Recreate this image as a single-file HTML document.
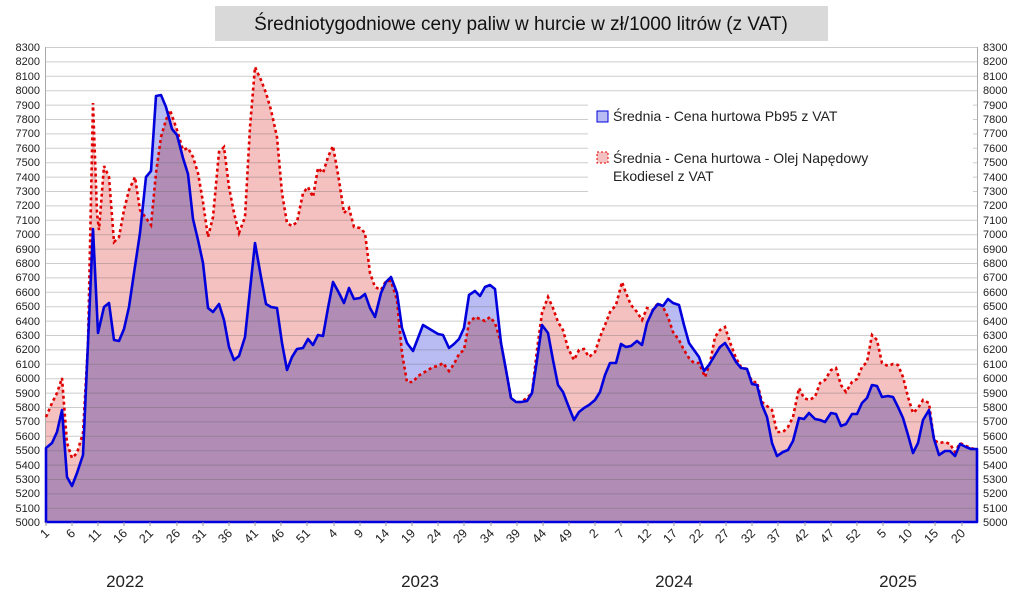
<!DOCTYPE html>
<html><head><meta charset="utf-8"><style>
body{margin:0;background:#fff;width:1024px;height:596px;overflow:hidden;font-family:"Liberation Sans",sans-serif}
#bluep{mix-blend-mode:multiply}
</style></head><body>
<svg width="1024" height="596" xmlns="http://www.w3.org/2000/svg" font-family="Liberation Sans, sans-serif">
<rect x="0" y="0" width="1024" height="596" fill="#fff"/>
<rect x="215" y="6" width="613" height="35" fill="#d9d9d9"/>
<text x="521" y="30" font-size="19" text-anchor="middle" fill="#111">Średniotygodniowe ceny paliw w hurcie w zł/1000 litrów (z VAT)</text>
<g style="isolation:isolate">
<polygon fill="#f5c0c0" points="46,522 46,417 52,403 57,393 62,378 67,443 72,458 77,453 83,433 88,343 93,103 97,213 99,230 104,166 109,177 114,242 119,237 124,210 129,190 135,177 140,210 146,218 151,225 156,173 161,137 166,120 170,110 177,130 183,150 188,148 193,157 198,173 203,202 208,237 213,217 219,152 224,147 229,187 234,213 239,233 245,217 250,127 255,67 261,80 266,93 271,110 277,137 282,193 287,223 292,226 297,222 303,193 308,187 313,197 318,168 323,173 328,157 333,146 339,180 344,213 349,208 354,227 360,228 365,233 370,273 375,287 381,290 386,281 391,281 397,300 402,353 407,382 413,382 418,376 423,373 428,370 433,367 438,366 443,363 449,371 454,364 459,354 464,350 469,323 475,317 480,319 485,321 490,317 495,323 501,343 506,370 511,398 516,402 521,402 527,398 532,393 537,350 542,313 548,297 553,308 558,322 563,330 568,348 574,360 579,350 584,349 589,357 595,352 600,337 605,325 610,312 616,305 622,282 626,293 631,305 637,312 642,320 647,308 653,310 658,303 663,307 668,317 673,332 679,340 684,350 689,358 694,363 699,363 705,377 710,363 715,337 720,330 725,327 731,345 736,358 741,367 747,369 752,382 757,382 762,402 767,406 772,410 777,432 783,432 788,427 793,417 799,388 804,398 809,400 815,397 820,383 825,380 831,370 836,368 841,385 846,392 852,382 857,379 862,367 867,362 872,335 877,340 882,363 888,366 893,364 898,365 903,377 908,397 913,413 918,408 923,400 929,403 934,440 939,443 945,442 950,444 955,452 960,443 966,446 971,448 977,450 977,522"/>
<polygon id="bluep" fill="#b8bcf2" points="46,522 46,448 52,443 57,432 62,410 67,477 72,486 77,473 83,455 88,343 93,229 98,333 104,307 109,303 114,340 119,341 124,329 129,307 134,273 140,233 146,177 151,171 156,96 161,95 166,107 172,129 177,135 183,158 188,174 193,219 198,240 203,263 208,308 213,312 219,304 224,320 229,347 234,360 239,356 245,337 250,290 255,243 261,277 266,304 271,307 277,308 282,343 287,370 292,357 297,349 303,348 308,339 313,345 318,335 323,336 328,308 333,282 339,293 344,303 349,288 354,299 360,298 365,294 370,308 375,317 381,293 386,282 391,277 397,293 402,328 407,343 413,351 418,338 423,325 428,328 433,331 438,334 443,335 449,348 454,344 459,339 464,328 469,295 475,291 480,296 485,287 490,285 495,289 501,343 506,370 511,398 516,402 521,402 527,401 532,393 537,360 542,325 548,333 553,360 558,385 563,392 568,405 574,420 579,412 584,408 589,405 595,400 600,392 605,375 610,363 616,363 621,344 626,347 631,346 637,341 642,345 647,323 653,310 658,304 663,306 668,299 673,303 679,305 684,325 689,343 694,350 699,357 704,371 709,365 715,355 720,347 725,343 731,353 736,362 741,368 747,369 752,384 757,385 762,405 767,417 772,443 777,456 783,452 788,450 793,441 799,418 804,419 809,413 815,419 820,420 825,422 831,413 836,414 841,426 846,424 852,414 857,414 862,403 867,398 872,385 877,386 882,397 888,396 893,397 898,407 903,418 908,435 913,453 918,443 923,420 929,410 934,439 939,455 945,451 950,451 955,456 960,444 966,447 971,449 977,449 977,522"/>
</g>
<g stroke="rgba(90,90,90,0.3)" stroke-width="1">
<path d="M46 47.5H977M46 61.9H977M46 76.3H977M46 90.7H977M46 105.1H977M46 119.5H977M46 133.9H977M46 148.3H977M46 162.7H977M46 177.1H977M46 191.5H977M46 205.9H977M46 220.3H977M46 234.7H977M46 249.1H977M46 263.5H977M46 277.9H977M46 292.3H977M46 306.7H977M46 321.1H977M46 335.5H977M46 349.9H977M46 364.3H977M46 378.7H977M46 393.1H977M46 407.5H977M46 421.9H977M46 436.3H977M46 450.7H977M46 465.1H977M46 479.5H977M46 493.9H977M46 508.3H977"/>
</g>
<line x1="45.5" y1="47" x2="45.5" y2="522" stroke="#aaa"/>
<line x1="977.5" y1="47" x2="977.5" y2="522" stroke="#aaa"/>
<polyline fill="none" stroke="#e00000" stroke-width="2.6" stroke-dasharray="3,3" points="46,417 52,403 57,393 62,378 67,443 72,458 77,453 83,433 88,343 93,103 97,213 99,230 104,166 109,177 114,242 119,237 124,210 129,190 135,177 140,210 146,218 151,225 156,173 161,137 166,120 170,110 177,130 183,150 188,148 193,157 198,173 203,202 208,237 213,217 219,152 224,147 229,187 234,213 239,233 245,217 250,127 255,67 261,80 266,93 271,110 277,137 282,193 287,223 292,226 297,222 303,193 308,187 313,197 318,168 323,173 328,157 333,146 339,180 344,213 349,208 354,227 360,228 365,233 370,273 375,287 381,290 386,281 391,281 397,300 402,353 407,382 413,382 418,376 423,373 428,370 433,367 438,366 443,363 449,371 454,364 459,354 464,350 469,323 475,317 480,319 485,321 490,317 495,323 501,343 506,370 511,398 516,402 521,402 527,398 532,393 537,350 542,313 548,297 553,308 558,322 563,330 568,348 574,360 579,350 584,349 589,357 595,352 600,337 605,325 610,312 616,305 622,282 626,293 631,305 637,312 642,320 647,308 653,310 658,303 663,307 668,317 673,332 679,340 684,350 689,358 694,363 699,363 705,377 710,363 715,337 720,330 725,327 731,345 736,358 741,367 747,369 752,382 757,382 762,402 767,406 772,410 777,432 783,432 788,427 793,417 799,388 804,398 809,400 815,397 820,383 825,380 831,370 836,368 841,385 846,392 852,382 857,379 862,367 867,362 872,335 877,340 882,363 888,366 893,364 898,365 903,377 908,397 913,413 918,408 923,400 929,403 934,440 939,443 945,442 950,444 955,452 960,443 966,446 971,448 977,450"/>
<polygon fill="none" stroke="#0000dd" stroke-width="2.6" stroke-linejoin="round" points="46,522 46,448 52,443 57,432 62,410 67,477 72,486 77,473 83,455 88,343 93,229 98,333 104,307 109,303 114,340 119,341 124,329 129,307 134,273 140,233 146,177 151,171 156,96 161,95 166,107 172,129 177,135 183,158 188,174 193,219 198,240 203,263 208,308 213,312 219,304 224,320 229,347 234,360 239,356 245,337 250,290 255,243 261,277 266,304 271,307 277,308 282,343 287,370 292,357 297,349 303,348 308,339 313,345 318,335 323,336 328,308 333,282 339,293 344,303 349,288 354,299 360,298 365,294 370,308 375,317 381,293 386,282 391,277 397,293 402,328 407,343 413,351 418,338 423,325 428,328 433,331 438,334 443,335 449,348 454,344 459,339 464,328 469,295 475,291 480,296 485,287 490,285 495,289 501,343 506,370 511,398 516,402 521,402 527,401 532,393 537,360 542,325 548,333 553,360 558,385 563,392 568,405 574,420 579,412 584,408 589,405 595,400 600,392 605,375 610,363 616,363 621,344 626,347 631,346 637,341 642,345 647,323 653,310 658,304 663,306 668,299 673,303 679,305 684,325 689,343 694,350 699,357 704,371 709,365 715,355 720,347 725,343 731,353 736,362 741,368 747,369 752,384 757,385 762,405 767,417 772,443 777,456 783,452 788,450 793,441 799,418 804,419 809,413 815,419 820,420 825,422 831,413 836,414 841,426 846,424 852,414 857,414 862,403 867,398 872,385 877,386 882,397 888,396 893,397 898,407 903,418 908,435 913,453 918,443 923,420 929,410 934,439 939,455 945,451 950,451 955,456 960,444 966,447 971,449 977,449 977,522"/>
<g stroke="#999"><path d="M46 522v4M72 522v4M98 522v4M124 522v4M150 522v4M177 522v4M203 522v4M229 522v4M255 522v4M281 522v4M307 522v4M334 522v4M360 522v4M386 522v4M412 522v4M438 522v4M464 522v4M491 522v4M517 522v4M543 522v4M569 522v4M595 522v4M621 522v4M648 522v4M674 522v4M700 522v4M726 522v4M752 522v4M778 522v4M805 522v4M831 522v4M857 522v4M883 522v4M909 522v4M935 522v4M962 522v4"/></g>
<g font-size="11" fill="#222" text-anchor="end">
<text x="40" y="51">8300</text><text x="40" y="65">8200</text><text x="40" y="80">8100</text><text x="40" y="94">8000</text><text x="40" y="109">7900</text><text x="40" y="123">7800</text><text x="40" y="137">7700</text><text x="40" y="152">7600</text><text x="40" y="166">7500</text><text x="40" y="181">7400</text><text x="40" y="195">7300</text><text x="40" y="209">7200</text><text x="40" y="224">7100</text><text x="40" y="238">7000</text><text x="40" y="253">6900</text><text x="40" y="267">6800</text><text x="40" y="281">6700</text><text x="40" y="296">6600</text><text x="40" y="310">6500</text><text x="40" y="325">6400</text><text x="40" y="339">6300</text><text x="40" y="353">6200</text><text x="40" y="368">6100</text><text x="40" y="382">6000</text><text x="40" y="397">5900</text><text x="40" y="411">5800</text><text x="40" y="425">5700</text><text x="40" y="440">5600</text><text x="40" y="454">5500</text><text x="40" y="469">5400</text><text x="40" y="483">5300</text><text x="40" y="497">5200</text><text x="40" y="512">5100</text><text x="40" y="526">5000</text>
</g>
<g font-size="11" fill="#222">
<text x="983" y="51">8300</text><text x="983" y="65">8200</text><text x="983" y="80">8100</text><text x="983" y="94">8000</text><text x="983" y="109">7900</text><text x="983" y="123">7800</text><text x="983" y="137">7700</text><text x="983" y="152">7600</text><text x="983" y="166">7500</text><text x="983" y="181">7400</text><text x="983" y="195">7300</text><text x="983" y="209">7200</text><text x="983" y="224">7100</text><text x="983" y="238">7000</text><text x="983" y="253">6900</text><text x="983" y="267">6800</text><text x="983" y="281">6700</text><text x="983" y="296">6600</text><text x="983" y="310">6500</text><text x="983" y="325">6400</text><text x="983" y="339">6300</text><text x="983" y="353">6200</text><text x="983" y="368">6100</text><text x="983" y="382">6000</text><text x="983" y="397">5900</text><text x="983" y="411">5800</text><text x="983" y="425">5700</text><text x="983" y="440">5600</text><text x="983" y="454">5500</text><text x="983" y="469">5400</text><text x="983" y="483">5300</text><text x="983" y="497">5200</text><text x="983" y="512">5100</text><text x="983" y="526">5000</text>
</g>
<g font-size="12.5" fill="#222" text-anchor="end">
<text transform="translate(50,534) rotate(-45)">1</text><text transform="translate(76,534) rotate(-45)">6</text><text transform="translate(102,534) rotate(-45)">11</text><text transform="translate(128,534) rotate(-45)">16</text><text transform="translate(154,534) rotate(-45)">21</text><text transform="translate(181,534) rotate(-45)">26</text><text transform="translate(207,534) rotate(-45)">31</text><text transform="translate(233,534) rotate(-45)">36</text><text transform="translate(259,534) rotate(-45)">41</text><text transform="translate(285,534) rotate(-45)">46</text><text transform="translate(311,534) rotate(-45)">51</text><text transform="translate(338,534) rotate(-45)">4</text><text transform="translate(364,534) rotate(-45)">9</text><text transform="translate(390,534) rotate(-45)">14</text><text transform="translate(416,534) rotate(-45)">19</text><text transform="translate(442,534) rotate(-45)">24</text><text transform="translate(468,534) rotate(-45)">29</text><text transform="translate(495,534) rotate(-45)">34</text><text transform="translate(521,534) rotate(-45)">39</text><text transform="translate(547,534) rotate(-45)">44</text><text transform="translate(573,534) rotate(-45)">49</text><text transform="translate(599,534) rotate(-45)">2</text><text transform="translate(625,534) rotate(-45)">7</text><text transform="translate(652,534) rotate(-45)">12</text><text transform="translate(678,534) rotate(-45)">17</text><text transform="translate(704,534) rotate(-45)">22</text><text transform="translate(730,534) rotate(-45)">27</text><text transform="translate(756,534) rotate(-45)">32</text><text transform="translate(782,534) rotate(-45)">37</text><text transform="translate(809,534) rotate(-45)">42</text><text transform="translate(835,534) rotate(-45)">47</text><text transform="translate(861,534) rotate(-45)">52</text><text transform="translate(887,534) rotate(-45)">5</text><text transform="translate(913,534) rotate(-45)">10</text><text transform="translate(939,534) rotate(-45)">15</text><text transform="translate(966,534) rotate(-45)">20</text>
</g>
<g font-size="17" fill="#222" text-anchor="middle">
<text x="125" y="587">2022</text><text x="420" y="587">2023</text><text x="674" y="587">2024</text><text x="898" y="587">2025</text>
</g>
<rect x="588" y="100" width="385" height="95" fill="#fff"/>
<rect x="597" y="111" width="11" height="11" fill="#b8bcf2" stroke="#0000dd" stroke-width="1"/>
<rect x="597" y="152" width="11" height="11" fill="#f5c0c0" stroke="#e00000" stroke-width="1" stroke-dasharray="2,2"/>
<g font-size="14" fill="#222">
<text x="613" y="121">Średnia - Cena hurtowa Pb95 z VAT</text>
<text x="613" y="163">Średnia - Cena hurtowa - Olej Napędowy</text>
<text x="613" y="181">Ekodiesel z VAT</text>
</g>
</svg>
</body></html>
